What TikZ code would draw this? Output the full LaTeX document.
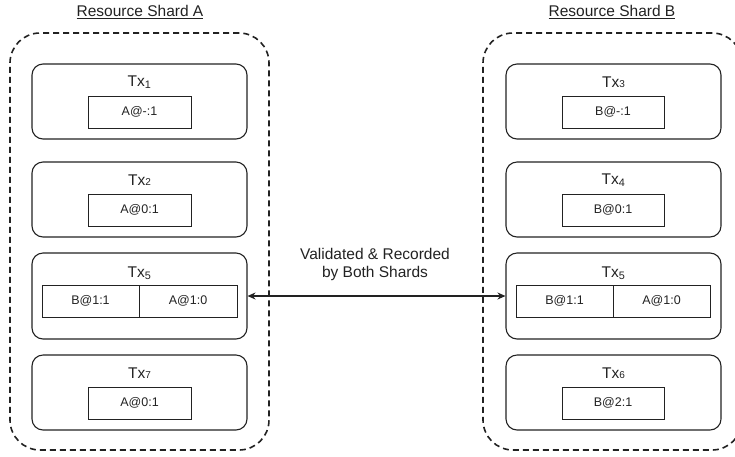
\documentclass[tikz,border=0pt]{standalone}
\usepackage{fontspec}
\setmainfont{Liberation Sans}
\usetikzlibrary{arrows.meta}
\definecolor{ink}{HTML}{222222}
\tikzset{
  shard/.style={draw=ink, line width=1.6pt, dash pattern=on 6pt off 4pt, rounded corners=30pt, minimum width=259pt, minimum height=417pt, inner sep=0pt},
  txbox/.style={draw=ink, line width=1.1pt, rounded corners=11pt, minimum width=215pt, inner sep=0pt},
  rec/.style={draw=ink, line width=0.9pt, minimum height=32pt, inner sep=0pt, text=ink, font=\fontsize{12.5}{14}\selectfont},
  txlabel/.style={text=ink, inner sep=0pt, font=\fontsize{15.5}{18}\selectfont},
  title/.style={text=ink, inner sep=0pt, font=\fontsize{15.5}{18}\selectfont},
  note/.style={text=ink, inner sep=0pt, align=center, font=\fontsize{15.5}{18}\selectfont},
  link/.style={draw=ink, line width=1.1pt, {Stealth[length=8pt,width=7pt]}-{Stealth[length=8pt,width=7pt]}}
}
\newcommand{\smalldigit}[1]{{\fontsize{10}{10}\selectfont #1}}
\begin{document}
\begin{tikzpicture}[x=1pt,y=-1pt]
\useasboundingbox (0,0) rectangle (735,456);
\clip (0,0) rectangle (735,456);
% containers
\node[shard] (shA) at (139.5,241.5) {};
\node[shard] (shB) at (612.5,241.5) {};
\node[title] (ttlA) at (140,12) {\underline{Resource Shard A}};
\node[title] (ttlB) at (612,12) {\underline{Resource Shard B}};
% shard A
\node[txbox, minimum height=75pt] (a1) at (139.5,101.5) {};
\node[txlabel] (a1l) at (139.5,82) {Tx\textsubscript{1}};
\node[rec, minimum width=103pt] (a1r) at (139.5,112) {A@-:1};
\node[txbox, minimum height=75pt] (a2) at (139.5,199.5) {};
\node[txlabel] (a2l) at (139.5,180) {Tx\smalldigit{2}};
\node[rec, minimum width=103pt] (a2r) at (139.5,210) {A@0:1};
\node[txbox, minimum height=86pt] (a5) at (139.5,296) {};
\node[txlabel] (a5l) at (139.5,273) {Tx\textsubscript{5}};
\node[rec, minimum width=97pt] (a5r1) at (90.5,301) {B@1:1};
\node[rec, minimum width=98pt] (a5r2) at (188,301) {A@1:0};
\node[txbox, minimum height=75pt] (a7) at (139.5,392.5) {};
\node[txlabel] (a7l) at (139.5,373) {Tx\smalldigit{7}};
\node[rec, minimum width=103pt] (a7r) at (139.5,403) {A@0:1};
% shard B
\node[txbox, minimum height=75pt] (b3) at (613.5,101.5) {};
\node[txlabel] (b3l) at (613.5,82) {Tx\smalldigit{3}};
\node[rec, minimum width=102pt] (b3r) at (613,112) {B@-:1};
\node[txbox, minimum height=75pt] (b4) at (613.5,199.5) {};
\node[txlabel] (b4l) at (613.5,180) {Tx\textsubscript{4}};
\node[rec, minimum width=102pt] (b4r) at (613,210) {B@0:1};
\node[txbox, minimum height=86pt] (b5) at (613.5,296) {};
\node[txlabel] (b5l) at (613.5,273) {Tx\textsubscript{5}};
\node[rec, minimum width=97pt] (b5r1) at (564.5,301) {B@1:1};
\node[rec, minimum width=97pt] (b5r2) at (661.5,301) {A@1:0};
\node[txbox, minimum height=75pt] (b6) at (613.5,392.5) {};
\node[txlabel] (b6l) at (613.5,373) {Tx\smalldigit{6}};
\node[rec, minimum width=102pt] (b6r) at (613,403) {B@2:1};
% link
\draw[link] (a5.east) -- (b5.west);
\node[note] (lbl) at (375,264) {Validated \& Recorded\\by Both Shards};
\end{tikzpicture}
\end{document}
